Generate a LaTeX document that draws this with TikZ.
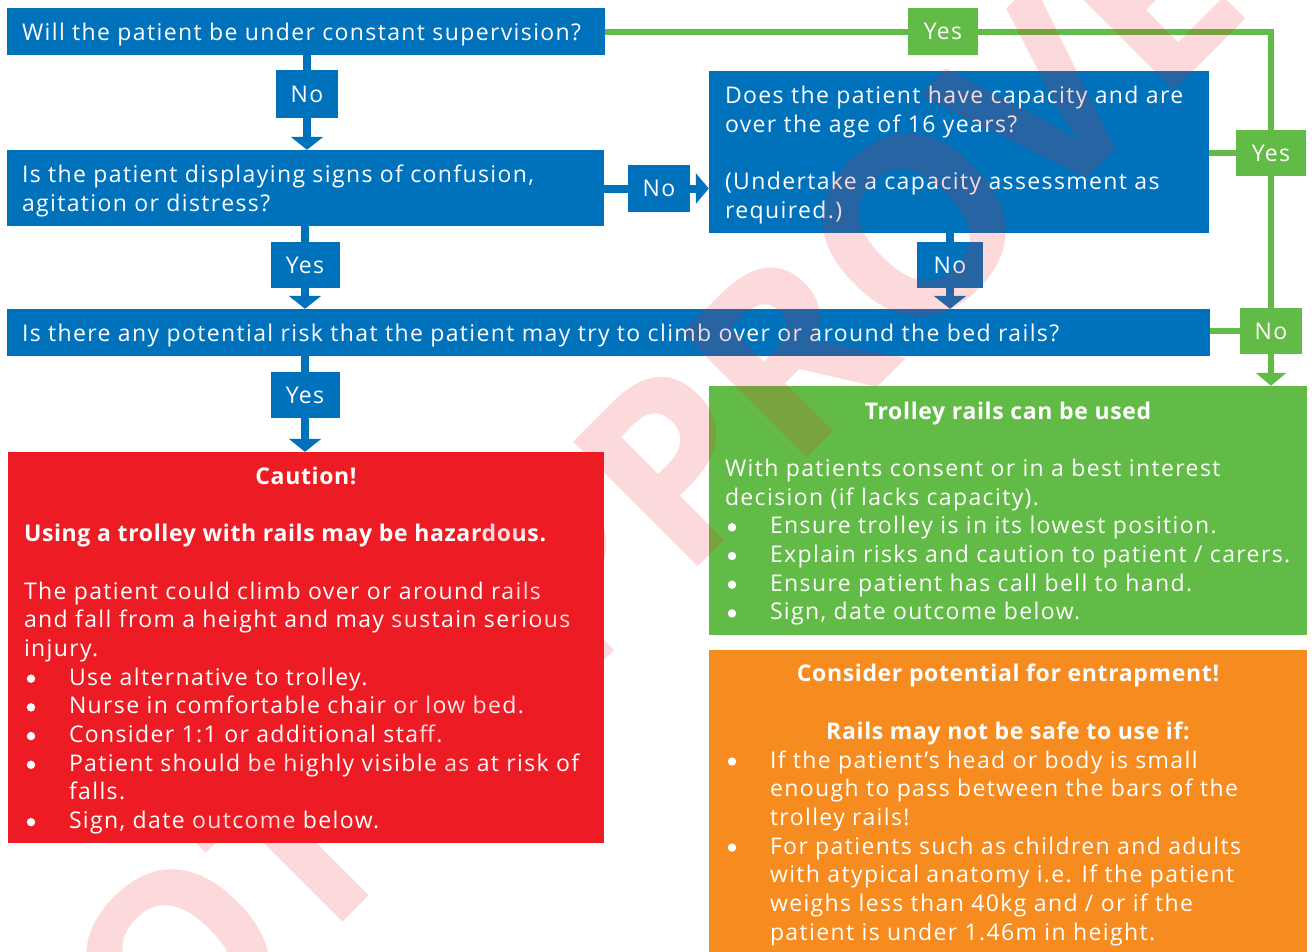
\documentclass[tikz,border=0pt]{standalone}
\usepackage{fontspec}
\setmainfont{Open Sans}[LetterSpace=6, BoldFeatures={LetterSpace=2.8}]
\newfontfamily\wmfont{Open Sans}
\usetikzlibrary{arrows.meta}
\definecolor{nhsblue}{RGB}{0,114,188}
\definecolor{nhsgreen}{RGB}{98,187,70}
\definecolor{nhsred}{RGB}{237,28,36}
\definecolor{nhsorange}{RGB}{246,139,31}
\definecolor{wmred}{RGB}{237,28,36}
\newcommand\tdot{\tikz[baseline=-6.5pt]\fill (0,0) circle (4.2pt);}
\newcommand\tline[1]{\hbox to\hsize{#1\hss}}
\newcommand\tctr[1]{\hbox to\hsize{\hss#1\hss}}
\newcommand\tbul[1]{\hbox to\hsize{\hbox to 45pt{\hskip2.8pt\tdot\hss}#1\hss}}
\newcommand\tcont[1]{\hbox to\hsize{\hskip45pt #1\hss}}
\newcommand\tblank{\vskip28.7pt}
\newcommand\tbox[2]{\vbox{\hsize=#1\baselineskip=28.7pt\lineskiplimit=-100pt\lineskip=0pt \vskip6pt #2}}
\tikzset{
  bodyfont/.style={font=\fontsize{23}{28.7}\selectfont},
  qbox/.style={fill=nhsblue, text=white, inner sep=0pt, bodyfont},
  outbox/.style={text=white, inner sep=0pt, bodyfont},
  blbl/.style={fill=nhsblue, text=white, inner sep=0pt, bodyfont},
  glbl/.style={fill=nhsgreen, text=white, inner sep=0pt, bodyfont},
  bconn/.style={draw=nhsblue, line width=8pt},
  gconn/.style={draw=nhsgreen, line width=6pt},
  tipdown/.style={-{Triangle[width=32pt,length=13pt]}},
  wm/.style={rotate=45, text=wmred, opacity=0.16, inner sep=0pt,
    font=\wmfont\fontsize{247}{247}\selectfont\bfseries},
}
\begin{document}
\begin{tikzpicture}[x=1pt,y=-1pt]
\useasboundingbox (0,0) rectangle (1312,951);
\fill[white] (0,0) rectangle (1312,951);
\clip (0,0) rectangle (1312,951);

% question boxes
\node[qbox, minimum width=598pt, minimum height=47pt] (q1) at (306,31.5)
  {\tbox{568pt}{\tline{Will the patient be under constant supervision?}}};
\node[qbox, minimum width=597pt, minimum height=76pt] (q2) at (305.5,188)
  {\tbox{567pt}{\tline{Is the patient displaying signs of confusion,}\tline{agitation or distress?}}};
\node[qbox, minimum width=500pt, minimum height=162pt] (q3) at (959,152)
  {\tbox{468pt}{\tline{Does the patient have capacity and are}\tline{over the age of 16 years?}\tblank
   \tline{(Undertake a capacity assessment as}\tline{required.)}}};
\node[qbox, minimum width=1203pt, minimum height=47pt] (q4) at (608.5,332.5)
  {\tbox{1173pt}{\tline{Is there any potential risk that the patient may try to climb over or around the bed rails?}}};

% outcome boxes
\node[outbox, fill=nhsred, minimum width=596pt, minimum height=391pt] (red) at (306,647.5)
  {\tbox{564pt}{%
   \tctr{\bfseries Caution!}\tblank
   \tline{\bfseries Using a trolley with rails may be hazardous.}\tblank
   \tline{The patient could climb over or around rails}
   \tline{and fall from a height and may sustain serious}
   \tline{injury.}
   \tbul{Use alternative to trolley.}
   \tbul{Nurse in comfortable chair or low bed.}
   \tbul{Consider 1:1 or additional staff.}
   \tbul{Patient should be highly visible as at risk of}
   \tcont{falls.}
   \tbul{Sign, date outcome below.}}};
\node[outbox, fill=nhsgreen, minimum width=598pt, minimum height=249pt] (green) at (1008,510.5)
  {\tbox{566pt}{%
   \tctr{\bfseries Trolley rails can be used}\tblank
   \tline{With patients consent or in a best interest}
   \tline{decision (if lacks capacity).}
   \tbul{Ensure trolley is in its lowest position.}
   \tbul{Explain risks and caution to patient / carers.}
   \tbul{Ensure patient has call bell to hand.}
   \tbul{Sign, date outcome below.}}};
\node[outbox, fill=nhsorange, minimum width=598pt, minimum height=304pt] (orange) at (1008,802)
  {\tbox{566pt}{%
   \tctr{\bfseries Consider potential for entrapment!}\tblank
   \tctr{\bfseries Rails may not be safe to use if:}
   \tbul{If the patient’s head or body is small}
   \tcont{enough to pass between the bars of the}
   \tcont{trolley rails!}
   \tbul{For patients such as children and adults}
   \tcont{with atypical anatomy i.e. If the patient}
   \tcont{weighs less than 40kg and / or if the}
   \tcont{patient is under 1.46m in height.}}};

% labels
\node[blbl, minimum width=62pt, minimum height=48pt] (nA) at (307,94) {No};
\node[blbl, minimum width=62pt, minimum height=47pt] (nB) at (659,188.5) {No};
\node[blbl, minimum width=69pt, minimum height=46pt] (yA) at (305,265) {Yes};
\node[blbl, minimum width=66pt, minimum height=46pt] (nC) at (950,265) {No};
\node[blbl, minimum width=69pt, minimum height=46pt] (yB) at (305,395) {Yes};
\node[glbl, minimum width=70pt, minimum height=47pt] (gY1) at (943,31.5) {Yes};
\node[glbl, minimum width=70pt, minimum height=46pt] (gY2) at (1271,153) {Yes};
\node[glbl, minimum width=62pt, minimum height=46pt] (gN) at (1271,331) {No};

% blue connectors
\draw[bconn] (q1.south -| nA) -- (nA.north);
\draw[bconn, tipdown] (nA.south) -- (q2.north -| nA);
\draw[bconn] (q2.south -| yA) -- (yA.north);
\draw[bconn, tipdown] (yA.south) -- (q4.north -| yA);
\draw[bconn] (q4.south -| yB) -- (yB.north);
\draw[bconn, tipdown] (yB.south) -- (red.north -| yB);
\draw[bconn] (q2.east |- nB) -- (nB.west);
\draw[bconn, -{Triangle[width=30pt,length=13pt]}] (nB.east) -- (q3.west |- nB);
\draw[bconn] (q3.south -| nC) -- (nC.north);
\draw[bconn, tipdown] (nC.south) -- (q4.north -| nC);

% green connectors
\draw[gconn] (q1.east |- gY1) -- (gY1.west);
\draw[gconn] (gY1.east) -- (gY1.east -| gY2) -- (gY2.north);
\draw[gconn] (q3.east |- gY2) -- (gY2.west);
\draw[gconn] (gY2.south) -- (gN.north);
\draw[gconn] (q4.east |- gN) -- (gN.west);
\draw[gconn, -{Triangle[width=30pt,length=13pt]}] (gN.south) -- (green.north -| gN);

% watermark
\node[wm] (wmark) at (645,495) {NOT APPROVED};
\end{tikzpicture}
\end{document}
